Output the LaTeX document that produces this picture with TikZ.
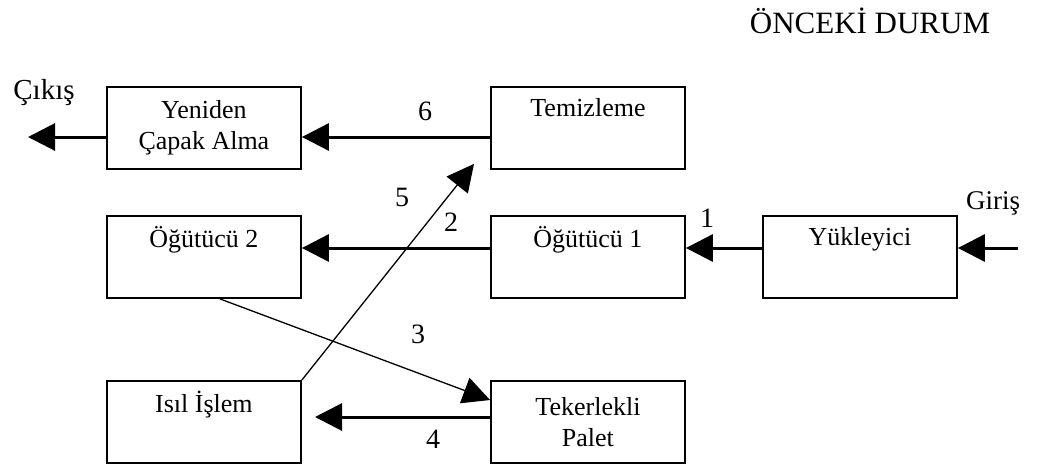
\documentclass[tikz,border=0pt]{standalone}
\usepackage{fontspec}
\setmainfont{Liberation Serif}
\usetikzlibrary{arrows.meta,calc}
\begin{document}
\begin{tikzpicture}[x=1pt,y=-1pt,
  box/.style={draw, line width=1.9pt, minimum width=194pt, minimum height=82pt,
    anchor=north west, inner sep=0pt, align=center,
    font=\fontsize{26}{31}\selectfont},
  bigtip/.style={-{Triangle[length=27pt,width=27pt]}},
  hflow/.style={bigtip, line width=3pt},
  dflow/.style={bigtip, line width=1.3pt},
  num/.style={font=\fontsize{28}{30}\selectfont, inner sep=0pt},
  tag/.style={font=\fontsize{29}{32}\selectfont, inner sep=0pt}
]
\useasboundingbox (0,0) rectangle (1047,464);

% title
\node[font=\fontsize{31}{34}\selectfont, inner sep=0pt] (title) at (870,21) {ÖNCEKİ DURUM};

% process boxes
\node[box] (yen)  at (106,86)  {Yeniden\\Çapak Alma};
\node[box] (tem)  at (490,86)  {Temizleme\\\strut};
\node[box] (og2)  at (106,215) {Öğütücü 2\\\strut};
\node[box] (og1)  at (490,215) {Öğütücü 1\\\strut};
\node[box] (yuk)  at (762,215) {Yükleyici\\\strut};
\node[box] (isil) at (106,380) {Isıl İşlem\\\strut};
\node[box] (tek)  at (490,380) {Tekerlekli\\Palet};

% flow levels and free ends
\coordinate (r1) at (0,137);
\coordinate (r2) at (0,248);
\coordinate (r4) at (0,417);
\coordinate (out) at (28,137);
\coordinate (in) at (1018,248);
\coordinate (endfour) at (315,417);
\coordinate (endfive) at ($(tem.south west)+(-16,-6)$);

% horizontal flows
\draw[hflow] (yen.west |- r1) -- (out);
\draw[hflow] (tem.west |- r1) -- (yen.east |- r1);
\draw[hflow] (in) -- (yuk.east |- r2);
\draw[hflow] (yuk.west |- r2) -- (og1.east |- r2);
\draw[hflow] (og1.west |- r2) -- (og2.east |- r2);
\draw[hflow] (tek.west |- r4) -- (endfour);

% diagonal flows
\draw[dflow] ($(og2.south)+(16,0)$) -- ($(tek.north west)+(0,20)$);
\draw[dflow] (isil.north east) -- (endfive);

% labels
\node[tag] (cikis) at (44,93) {Çıkış};
\node[tag, font=\fontsize{27}{30}\selectfont] (giris) at (993,203) {Giriş};
\node[num] (n1) at (707,218) {1};
\node[num] (n2) at (451,222) {2};
\node[num] (n3) at (418,334) {3};
\node[num] (n4) at (433,439) {4};
\node[num] (n5) at (402,197) {5};
\node[num] (n6) at (425,111) {6};
\end{tikzpicture}
\end{document}
